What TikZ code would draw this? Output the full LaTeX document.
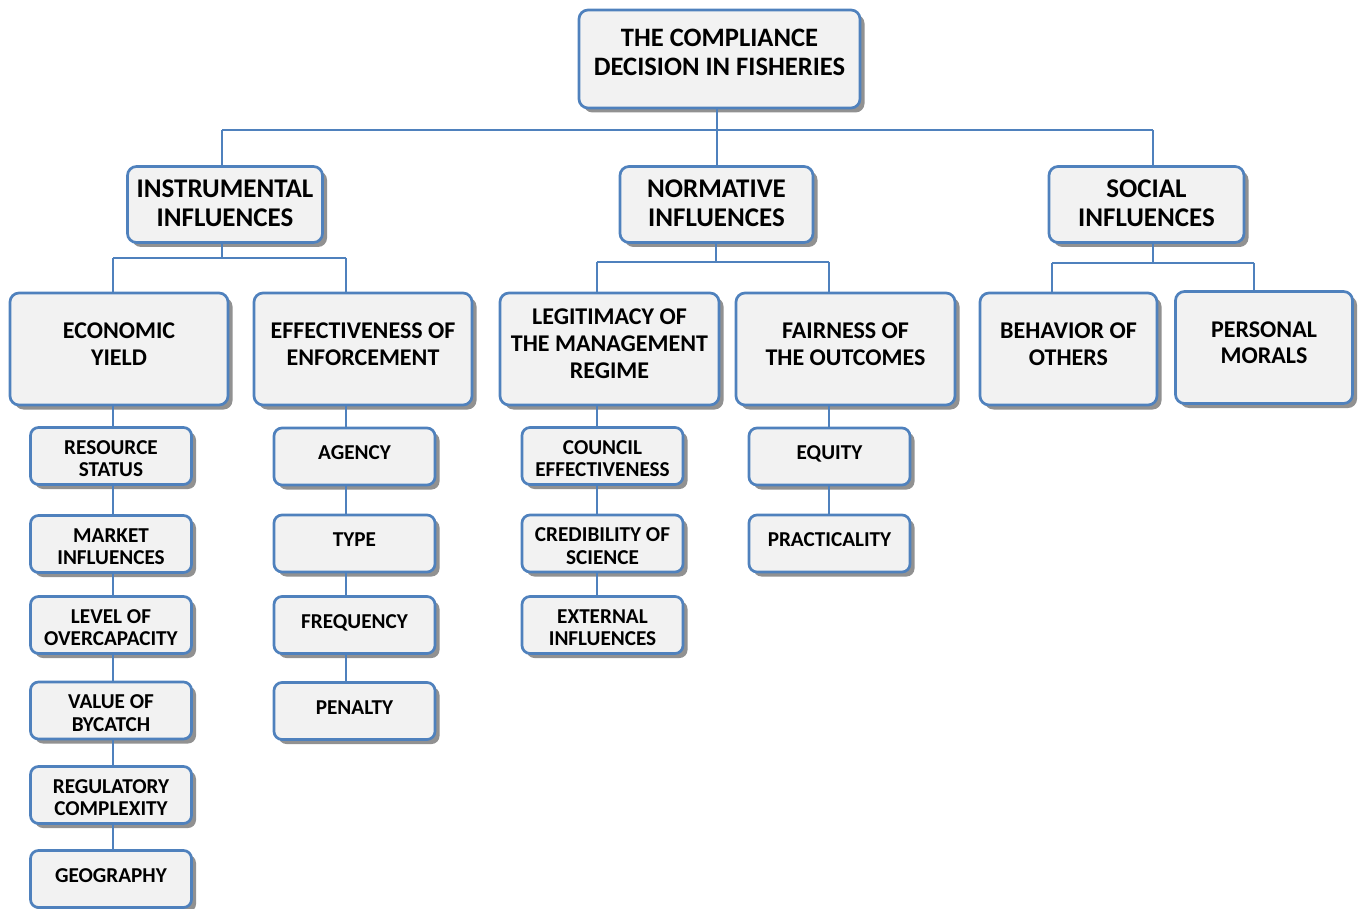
\documentclass[tikz,border=0pt]{standalone}
\usepackage{fontspec}
\setmainfont{Carlito}
\usetikzlibrary{shadows}
\definecolor{bd}{RGB}{79,129,189}
\definecolor{fl}{RGB}{242,242,242}
\definecolor{sh}{RGB}{145,145,145}
\newcommand\txs{0pt}
\newcommand\tx[1]{\raisebox{\txs}[\height][\depth]{\begin{tabular}{@{}c@{}}#1\end{tabular}}}
\begin{document}
\begin{tikzpicture}[x=1pt,y=-1pt,
  box/.style={draw=bd, line width=2.7pt, fill=fl, rounded corners=9pt, align=center,
    inner sep=2pt, drop shadow={shadow xshift=4.5pt, shadow yshift=-4.5pt, fill=sh, opacity=1}},
  txtlift/.style={execute at begin node={\renewcommand\txs{#1}}},
  topbox/.style={box, minimum width=281pt, minimum height=98pt, txtlift=3.5pt, font=\fontsize{26.6}{28.4}\selectfont\bfseries},
  catbox/.style={box, minimum width=195pt, minimum height=76pt, txtlift=-1.5pt, font=\fontsize{27}{29}\selectfont\bfseries},
  subbox/.style={box, minimum width=218pt, minimum height=112pt, txtlift=2.4pt, font=\fontsize{24}{26.7}\selectfont\bfseries},
  leafbox/.style={box, minimum width=161pt, minimum height=57pt, rounded corners=8pt, txtlift=-5pt, font=\fontsize{21.2}{22.7}\selectfont\bfseries},
  oneleaf/.style={leafbox, txtlift=1.5pt},
  conn/.style={draw=bd, line width=1.6pt}]
\useasboundingbox (0,0) rectangle (1359,909);

% nodes
\node[topbox] (top) at (719.5,59) {\tx{THE COMPLIANCE\\DECISION IN FISHERIES}};
\node[catbox] (instr) at (225,204.5) {\tx{INSTRUMENTAL\\INFLUENCES}};
\node[catbox, minimum width=193pt] (norm) at (716.5,204.5) {\tx{NORMATIVE\\INFLUENCES}};
\node[catbox] (social) at (1146.5,204.5) {\tx{SOCIAL\\INFLUENCES}};

\node[subbox] (econ) at (119,349) {\tx{ECONOMIC\\YIELD}};
\node[subbox] (enf) at (363,349) {\tx{EFFECTIVENESS OF\\ENFORCEMENT}};
\node[subbox, minimum width=219pt, txtlift=3pt] (legit) at (609.5,349) {\tx{LEGITIMACY OF\\THE MANAGEMENT\\REGIME}};
\node[subbox, minimum width=219pt] (fair) at (845.5,349) {\tx{FAIRNESS OF\\THE OUTCOMES}};
\node[subbox, minimum width=177pt] (behav) at (1068.5,349) {\tx{BEHAVIOR OF\\OTHERS}};
\node[subbox, minimum width=177pt] (moral) at (1264,347.5) {\tx{PERSONAL\\MORALS}};

\node[leafbox] (res) at (111,456) {\tx{RESOURCE\\STATUS}};
\node[leafbox] (mkt) at (111,544) {\tx{MARKET\\INFLUENCES}};
\node[leafbox] (over) at (111,625) {\tx{LEVEL OF\\OVERCAPACITY}};
\node[leafbox] (byc) at (111,710.5) {\tx{VALUE OF\\BYCATCH}};
\node[leafbox] (reg) at (111,795) {\tx{REGULATORY\\COMPLEXITY}};
\node[oneleaf] (geo) at (111,879) {\tx{GEOGRAPHY}};

\node[oneleaf] (agency) at (354.5,456.5) {\tx{AGENCY}};
\node[oneleaf] (type) at (354.5,543.5) {\tx{TYPE}};
\node[oneleaf] (freq) at (354.5,625) {\tx{FREQUENCY}};
\node[oneleaf] (pen) at (354.5,711) {\tx{PENALTY}};

\node[leafbox] (council) at (602.5,456) {\tx{COUNCIL\\EFFECTIVENESS}};
\node[leafbox] (cred) at (602.5,543.5) {\tx{CREDIBILITY OF\\SCIENCE}};
\node[leafbox] (ext) at (602.5,625) {\tx{EXTERNAL\\INFLUENCES}};

\node[oneleaf] (equity) at (829.5,456.5) {\tx{EQUITY}};
\node[oneleaf] (pract) at (829.5,543.5) {\tx{PRACTICALITY}};

% bus coordinates
\coordinate (bT) at (717,130);
\coordinate (bI) at (222,130);
\coordinate (bS) at (1153,130);
\coordinate (iA) at (222,258);
\coordinate (iL) at (113,258);
\coordinate (iR) at (346,258);
\coordinate (nA) at (716,262);
\coordinate (nL) at (597,262);
\coordinate (nR) at (829,262);
\coordinate (sA) at (1153,263);
\coordinate (sL) at (1052,263);
\coordinate (sR) at (1254,263);

% top level
\draw[conn] (top.south -| bT) -- (bT);
\draw[conn] (bI) -- (bS);
\draw[conn] (bI) -- (instr.north -| bI);
\draw[conn] (bT) -- (norm.north -| bT);
\draw[conn] (bS) -- (social.north -| bS);

% instrumental
\draw[conn] (instr.south -| iA) -- (iA);
\draw[conn] (iL) -- (iR);
\draw[conn] (iL) -- (econ.north -| iL);
\draw[conn] (iR) -- (enf.north -| iR);
\draw[conn] (econ.south -| iL) -- (res.north -| iL);
\draw[conn] (res.south -| iL) -- (mkt.north -| iL);
\draw[conn] (mkt.south -| iL) -- (over.north -| iL);
\draw[conn] (over.south -| iL) -- (byc.north -| iL);
\draw[conn] (byc.south -| iL) -- (reg.north -| iL);
\draw[conn] (reg.south -| iL) -- (geo.north -| iL);
\draw[conn] (enf.south -| iR) -- (agency.north -| iR);
\draw[conn] (agency.south -| iR) -- (type.north -| iR);
\draw[conn] (type.south -| iR) -- (freq.north -| iR);
\draw[conn] (freq.south -| iR) -- (pen.north -| iR);

% normative
\draw[conn] (norm.south -| nA) -- (nA);
\draw[conn] (nL) -- (nR);
\draw[conn] (nL) -- (legit.north -| nL);
\draw[conn] (nR) -- (fair.north -| nR);
\draw[conn] (legit.south -| nL) -- (council.north -| nL);
\draw[conn] (council.south -| nL) -- (cred.north -| nL);
\draw[conn] (cred.south -| nL) -- (ext.north -| nL);
\draw[conn] (fair.south -| nR) -- (equity.north -| nR);
\draw[conn] (equity.south -| nR) -- (pract.north -| nR);

% social
\draw[conn] (social.south -| sA) -- (sA);
\draw[conn] (sL) -- (sR);
\draw[conn] (sL) -- (behav.north -| sL);
\draw[conn] (sR) -- (moral.north -| sR);
\end{tikzpicture}
\end{document}
